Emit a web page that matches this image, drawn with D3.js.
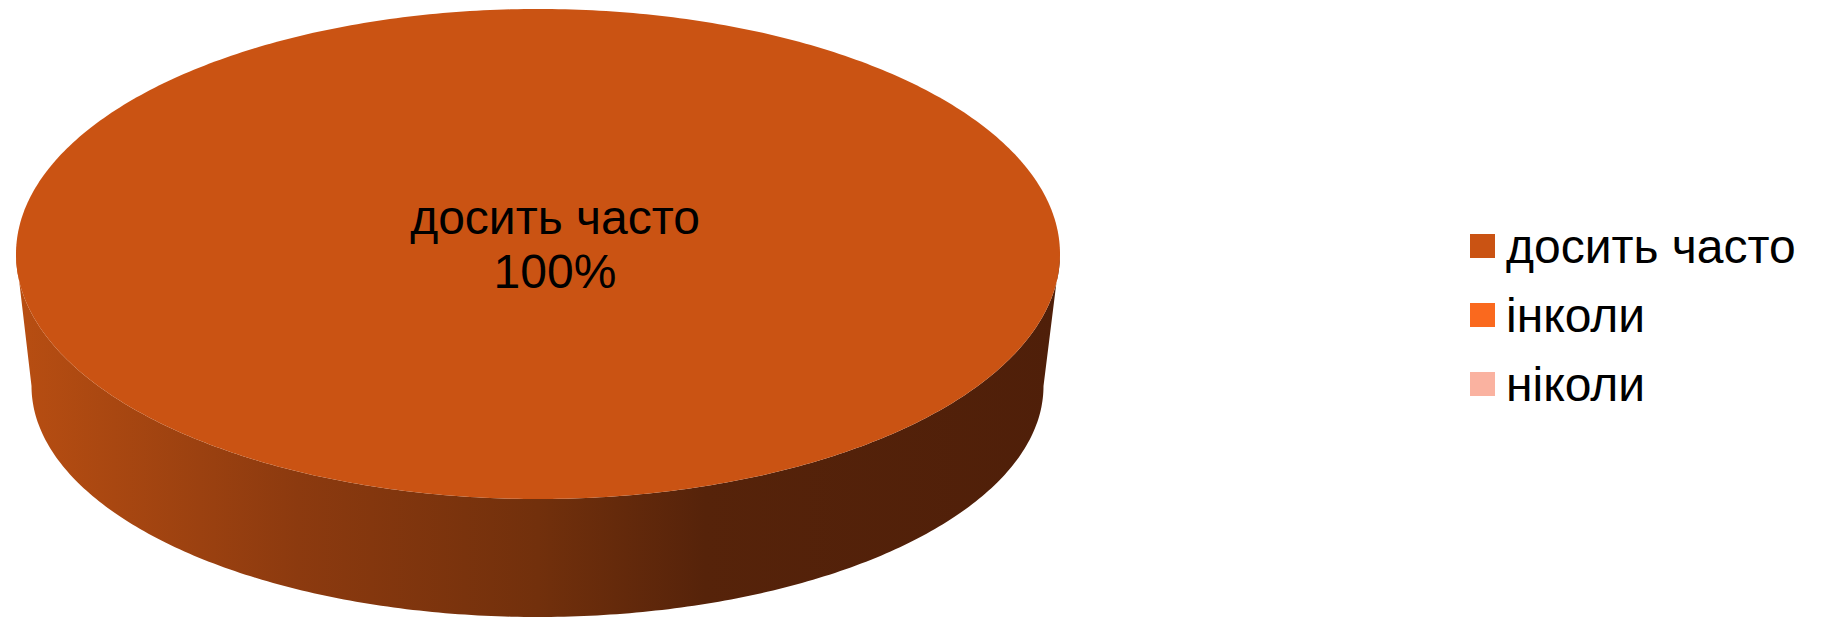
<!DOCTYPE html>
<html>
<head>
<meta charset="utf-8">
<script src="https://cdn.jsdelivr.net/npm/d3@7"></script>
<style>
  html, body { margin: 0; padding: 0; background: #fff; }
  svg { display: block; font-family: "Liberation Sans", Arial, sans-serif; }
</style>
</head>
<body>
<svg id="chart" width="1821" height="619"></svg>
<script>
const categories = ["досить часто", "інколи", "ніколи"];
const values = [100, 0, 0];
const colors = ["#CA5313", "#FA691E", "#FAB2A0"];

const W = 1821, H = 619;
const svg = d3.select("#chart");

// 3D ellipse geometry (top face and bottom rim with slight perspective)
const topE = { cx: 538, cy: 254, rx: 522, ry: 245 };
const botE = { cx: 537.5, cy: 386, rx: 506, ry: 231 };

const color = d3.scaleOrdinal().domain(categories).range(colors);
const pie = d3.pie().value(d => d.value).sort(null);
const data = categories.map((c, i) => ({ name: c, value: values[i] }));
const arcs = pie(data);

// angle (0 = 12 o'clock, clockwise) -> point on ellipse
const pt = (e, a) => [e.cx + e.rx * Math.sin(a), e.cy - e.ry * Math.cos(a)];

const defs = svg.append("defs");
const grad = defs.append("linearGradient")
  .attr("id", "sideGrad").attr("gradientUnits", "userSpaceOnUse")
  .attr("x1", topE.cx - topE.rx).attr("x2", topE.cx + topE.rx)
  .attr("y1", 0).attr("y2", 0);
[[0, "#B84E12"], [0.27, "#8C3A0F"], [0.5, "#72300C"], [0.66, "#56230A"], [1, "#4F1F09"]]
  .forEach(([o, c]) => grad.append("stop").attr("offset", o).attr("stop-color", c));

const line = d3.line();
const N = 240;

// side walls: only front-facing portion (angles between PI/2 and 3PI/2)
arcs.filter(d => d.endAngle - d.startAngle > 0).forEach(d => {
  const a0 = Math.max(d.startAngle, Math.PI / 2);
  const a1 = Math.min(d.endAngle, 3 * Math.PI / 2);
  if (a1 <= a0) return;
  const upper = d3.range(N + 1).map(i => pt(topE, a0 + (a1 - a0) * i / N));
  const lower = d3.range(N + 1).map(i => pt(botE, a1 - (a1 - a0) * i / N));
  svg.append("path")
    .attr("d", line(upper.concat(lower)) + "Z")
    .attr("fill", "url(#sideGrad)");
});

// top faces
arcs.filter(d => d.endAngle - d.startAngle > 0).forEach(d => {
  const full = d.endAngle - d.startAngle >= 2 * Math.PI - 1e-9;
  const pts = d3.range(N * 2 + 1).map(i => pt(topE, d.startAngle + (d.endAngle - d.startAngle) * i / (N * 2)));
  const path = full ? line(pts) + "Z" : line([[topE.cx, topE.cy]].concat(pts)) + "Z";
  svg.append("path")
    .attr("d", path)
    .attr("fill", color(d.data.name));
});

// data labels
const total = d3.sum(values);
arcs.filter(d => d.value > 0).forEach(d => {
  const lx = 555, ly = 234;
  const g = svg.append("g").attr("text-anchor", "middle").attr("font-size", 48).attr("fill", "#000");
  g.append("text").attr("x", lx).attr("y", ly).text(d.data.name);
  g.append("text").attr("x", lx).attr("y", ly + 54).text(d3.format(".0%")(d.value / total));
});

// legend
const leg = svg.append("g").attr("transform", "translate(1470,234)");
const li = leg.selectAll("g").data(categories).join("g")
  .attr("transform", (d, i) => `translate(0,${i * 69})`);
li.append("rect").attr("width", 25).attr("height", 24).attr("fill", d => color(d));
li.append("text").attr("x", 36).attr("y", 29).attr("font-size", 48).attr("fill", "#000").text(d => d);
</script>
</body>
</html>
